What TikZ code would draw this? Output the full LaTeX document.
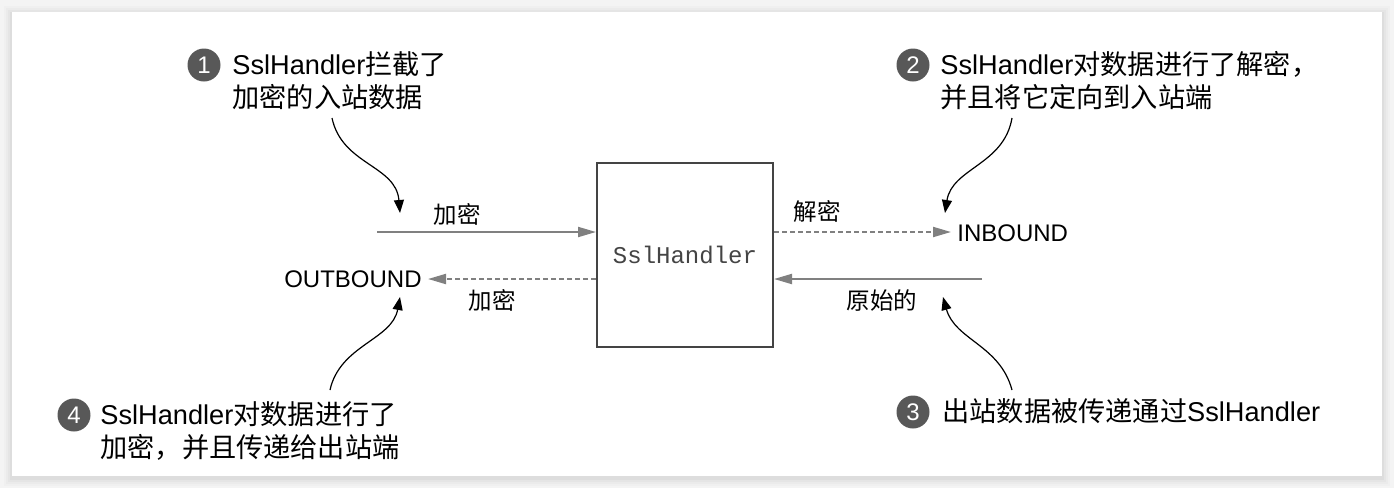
\documentclass[tikz,border=0pt]{standalone}
\usepackage{fontspec}
\setmainfont{Liberation Sans}
\setmonofont{Liberation Mono}
\newfontfamily\cjk{Noto Sans CJK SC}
\usetikzlibrary{arrows.meta}
\newcommand\zh[1]{{\cjk #1}}
\definecolor{arrowgray}{HTML}{808080}
\definecolor{boxcol}{HTML}{444444}
\definecolor{monogray}{HTML}{444444}
\definecolor{numfill}{HTML}{585858}
\definecolor{bggray}{HTML}{F4F4F4}
\tikzset{
  garrow/.style={draw=arrowgray, line width=1pt, -{Triangle[length=9pt,width=5pt]}, arrowgray},
  gdash/.style={garrow, dash pattern=on 2.5pt off 1.5pt},
  callarrow/.style={draw=black, line width=0.6pt, -{Triangle[length=6.5pt,width=5pt]}},
  lab/.style={font=\fontsize{11.75}{13}\selectfont, inner sep=0pt},
  bound/.style={font=\fontsize{12}{14}\selectfont, inner sep=2pt},
  numcirc/.style={circle, fill=numfill, minimum size=16.5pt, inner sep=0pt, text=white, font=\fontsize{12}{12}\selectfont},
  calltext/.style={font=\fontsize{13.6}{16.5}\selectfont, align=left, inner sep=0pt, anchor=north west}
}
\begin{document}
\begin{tikzpicture}[x=0.5pt,y=-0.5pt]
\useasboundingbox (0,0) rectangle (1394,488);
\fill[bggray] (0,0) rectangle (1394,488);
\foreach \i/\o in {8/0.015,6/0.02,4/0.025,2/0.03} {
  \fill[black,opacity=\o] (12-\i,12-\i+2) rectangle (1382+\i,476+\i+2);
}
\fill[white] (12,12) rectangle (1382,476);

% central box
\node[draw=boxcol, line width=1pt, minimum width=88pt, minimum height=92pt,
      font=\ttfamily\fontsize{12}{14}\selectfont, text=monogray] (ssl) at (685,255) {SslHandler};

% inbound encrypted
\coordinate (in1) at (377,232);
\draw[garrow] (in1) -- (in1 -| ssl.west);
\node[lab] (l1) at (457,214) {\zh{加密}};

% decrypted to INBOUND
\node[bound, anchor=west] (inb) at (953,233) {INBOUND};
\draw[gdash] (ssl.east |- 0,232) -- ([xshift=-1pt]inb.west |- 0,232);
\node[lab] (l2) at (817,211) {\zh{解密}};

% original outbound
\coordinate (orig) at (982,279);
\draw[garrow] (orig) -- (orig -| ssl.east);
\node[lab] (l3) at (882,301) {\zh{原始的}};

% encrypted to OUTBOUND
\node[bound, anchor=east] (outb) at (426,279) {OUTBOUND};
\draw[gdash] (ssl.west |- outb) -- ([xshift=1pt]outb.east);
\node[lab] (l4) at (492,300) {\zh{加密}};

% callout 1
\node[numcirc] (n1) at (204,65) {1};
\node[calltext] (t1) at (232,51) {SslHandler\zh{拦截了}\\\zh{加密的入站数据}};
\coordinate (c1s) at (332,118);
\coordinate (c1e) at (400,213);
\draw[callarrow] (c1s) .. controls (342,165) and (396,165) .. (c1e);

% callout 2
\node[numcirc] (n2) at (913,65) {2};
\node[calltext] (t2) at (940,51) {SslHandler\zh{对数据进行了解密，}\\\zh{并且将它定向到入站端}};
\coordinate (c2s) at (1012,118);
\coordinate (c2e) at (945,213);
\draw[callarrow] (c2s) .. controls (1004,165) and (952,168) .. (c2e);

% callout 3
\node[numcirc] (n3) at (913,412) {3};
\node[calltext] (t3) at (942,398) {\zh{出站数据被传递通过}SslHandler};
\coordinate (c3s) at (1012,390);
\coordinate (c3e) at (943,297);
\draw[callarrow] (c3s) .. controls (1000,345) and (955,340) .. (c3e);

% callout 4
\node[numcirc] (n4) at (74,415) {4};
\node[calltext] (t4) at (100,401) {SslHandler\zh{对数据进行了}\\\zh{加密，并且传递给出站端}};
\coordinate (c4s) at (330,390);
\coordinate (c4e) at (400,297);
\draw[callarrow] (c4s) .. controls (340,345) and (392,340) .. (c4e);
\end{tikzpicture}
\end{document}
